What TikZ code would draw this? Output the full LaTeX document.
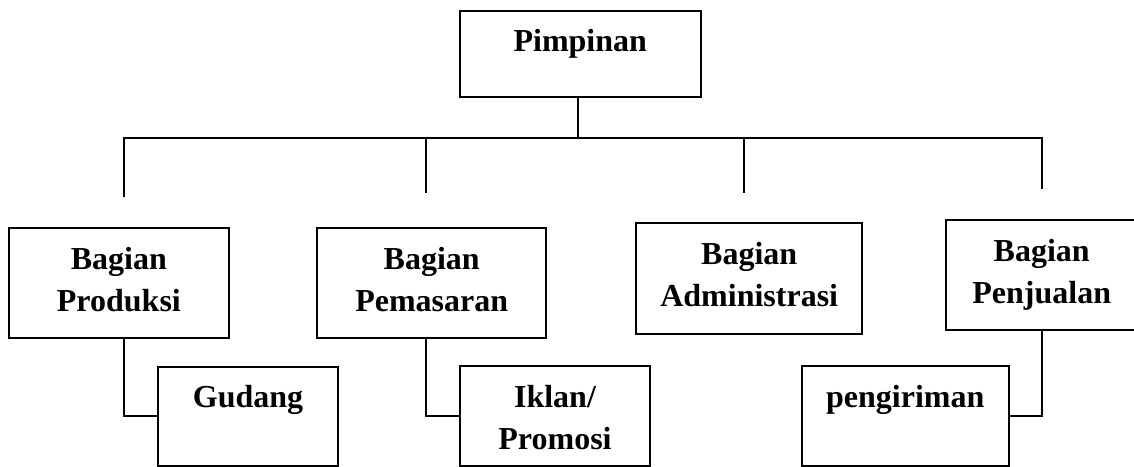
\documentclass[tikz,border=0pt]{standalone}
\usepackage{fontspec}
\setmainfont{Liberation Serif}
\newcommand{\boxtext}[3]{\parbox[c][#2][t]{#1}{\centering\rule{0pt}{41pt}#3}}
\begin{document}
\begin{tikzpicture}[x=1pt,y=-1pt,
  box/.style={draw,line width=2pt,inner sep=0pt,outer sep=0pt,anchor=north west,
    font=\fontsize{32}{42}\selectfont\bfseries},
  link/.style={line width=1.7pt}]
\useasboundingbox (0,0) rectangle (1134,466);
\node[box] (pim) at (460,10.7) {\boxtext{240.5pt}{86.3pt}{Pimpinan}};
\node[box] (prod) at (9.3,228) {\boxtext{219.2pt}{110.3pt}{Bagian\\Produksi}};
\node[box] (pem) at (317.4,228) {\boxtext{228.6pt}{110.3pt}{Bagian\\Pemasaran}};
\node[box] (adm) at (636,223.3) {\boxtext{226.4pt}{110.4pt}{Bagian\\Administrasi}};
\node[box] (pen) at (945.5,220) {\boxtext{192.5pt}{109.5pt}{Bagian\\Penjualan}};
\node[box] (gud) at (158,366.5) {\boxtext{180pt}{99pt}{Gudang}};
\node[box] (ikl) at (460,366) {\boxtext{190pt}{99.5pt}{Iklan/\\Promosi}};
\node[box] (kir) at (802,366) {\boxtext{206.5pt}{99.5pt}{pengiriman}};
\coordinate (j) at (578.3,138.3);
\coordinate (b1) at (124,138.3);
\coordinate (b2) at (426,138.3);
\coordinate (b3) at (744,138.3);
\coordinate (b4) at (1042,138.3);
\coordinate (d1) at (124,197.3);
\coordinate (d2) at (426,192.7);
\coordinate (d3) at (744,193.3);
\coordinate (d4) at (1042,189.3);
\draw[link] (pim.south -| j) -- (j);
\draw[link] (d1) -- (b1) -- (b4) -- (d4);
\draw[link] (b2) -- (d2);
\draw[link] (b3) -- (d3);
\draw[link] (prod.south -| b1) |- (gud.west);
\draw[link] (pem.south -| b2) |- (ikl.west);
\draw[link] (pen.south -| b4) |- (kir.east);
\end{tikzpicture}
\end{document}
